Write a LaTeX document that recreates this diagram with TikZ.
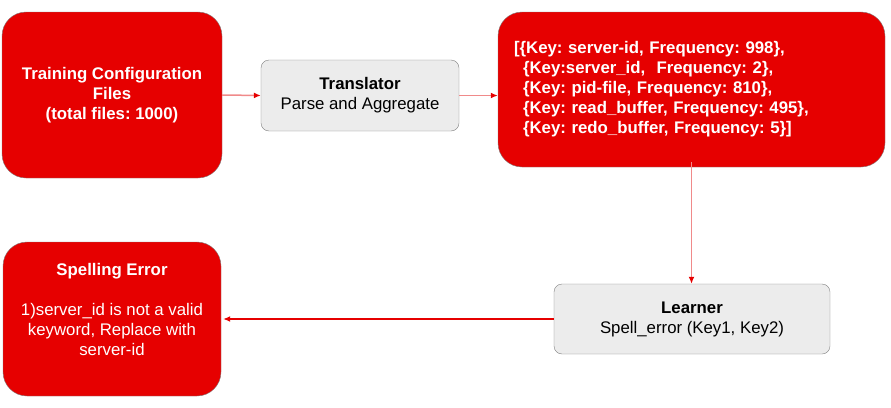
\documentclass[tikz,border=0pt]{standalone}
\usepackage{fontspec}
\setmainfont{Liberation Sans}
\usetikzlibrary{arrows.meta}
\frenchspacing

\definecolor{boxred}{HTML}{E60000}
\definecolor{boxgray}{HTML}{ECECEC}
\definecolor{edgegray}{HTML}{7F7F7F}
\definecolor{linkred}{HTML}{F08A8A}

\tikzset{
  redbox/.style={draw=edgegray, fill=boxred, rounded corners=24pt, text=white,
    font=\fontsize{16.8pt}{20pt}\selectfont, align=center, inner sep=0pt},
  graybox/.style={draw=edgegray, fill=boxgray, rounded corners=8pt, text=black,
    font=\fontsize{16.8pt}{20pt}\selectfont, align=center, inner sep=0pt},
  link/.style={draw=linkred, line width=1.5pt, -{Latex[length=7pt,width=6pt,fill=boxred,color=boxred]}},
  solidlink/.style={draw=boxred, line width=1.3pt, -{Latex[length=7pt,width=6pt]}}
}

\begin{document}
\begin{tikzpicture}[x=1pt,y=-1pt]
  \useasboundingbox (0,0) rectangle (891,407);

  % top row
  \node[redbox, minimum width=220pt, minimum height=166pt] (files) at (112,95)
    {\textbf{Training Configuration}\\\textbf{Files}\\\textbf{(total files: 1000)}};
  \node[graybox, minimum width=198pt, minimum height=71pt] (translator) at (360,95.5)
    {\textbf{Translator}\\Parse and Aggregate};
  \node[redbox, minimum width=387pt, minimum height=155pt, align=left,
        text width=355pt] (keys) at (691.5,89.5)
    {\bfseries [\{Key: server-id, Frequency: 998\},\\
     \hspace*{9pt}\{Key:server\_id,\ \ Frequency: 2\},\\
     \hspace*{9pt}\{Key: pid-file, Frequency: 810\},\\
     \hspace*{9pt}\{Key: read\_buffer, Frequency: 495\},\\
     \hspace*{9pt}\{Key: redo\_buffer, Frequency: 5\}]};

  % bottom row
  \node[graybox, minimum width=276pt, minimum height=70pt] (learner) at (692,319)
    {\textbf{Learner}\\Spell\_error (Key1, Key2)};
  \node[redbox, minimum width=218pt, minimum height=154pt] (spell) at (112,319)
    {\textbf{Spelling Error}\\[20pt]1)server\_id is not a valid\\keyword, Replace with\\server-id\\\mbox{}};

  \coordinate (keysout) at ([yshift=5pt]keys.south);

  \draw[link] (files.east) -- (translator.west);
  \draw[link] (translator.east) -- (translator.east -| keys.west);
  \draw[link] (keysout) -- (keysout |- learner.north);
  \draw[solidlink] (learner.west) -- ([xshift=2pt]spell.east);
\end{tikzpicture}
\end{document}
